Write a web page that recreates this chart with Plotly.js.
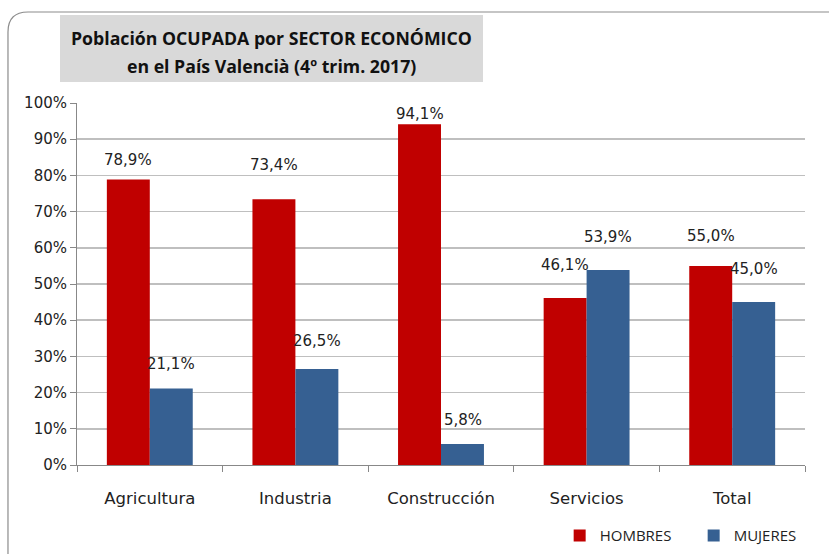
<!DOCTYPE html>
<html>
<head>
<meta charset="utf-8">
<script src="https://cdn.plot.ly/plotly-3.0.1.min.js"></script>
<style>html,body{margin:0;padding:0;background:#fff;}#chart{width:829px;height:554px;}</style>
</head>
<body>
<div id="chart"></div>
<script>
// Data
var categories = ["Agricultura", "Industria", "Construcción", "Servicios", "Total"];
var hombres = [78.9, 73.4, 94.1, 46.1, 55.0];
var mujeres = [21.1, 26.5, 5.8, 53.9, 45.0];
var yTickVals = [0, 10, 20, 30, 40, 50, 60, 70, 80, 90, 100];
var titleLines = ["Población OCUPADA por SECTOR ECONÓMICO", "en el País Valencià (4º trim. 2017)"];

// Label styling (pixel offsets above bar tops)
var hombresLabelShift = [19, 34, 10, 33, 30];
var mujeresLabelShift = [25, 28, 24, 33, 33];

var RED = "#C00000", BLUE = "#366092";
var FONT = "DejaVu Sans";

function fmt(v) { return v.toFixed(1).replace(".", ",") + "%"; }

var traces = [
  {type: "bar", name: "HOMBRES", x: categories, y: hombres, marker: {color: RED}, hoverinfo: "none"},
  {type: "bar", name: "MUJERES", x: categories, y: mujeres, marker: {color: BLUE}, hoverinfo: "none"}
];

var annotations = [];
categories.forEach(function (c, i) {
  annotations.push({x: c, y: hombres[i], xref: "x", yref: "y", text: fmt(hombres[i]), showarrow: false,
    xshift: -21.5, yshift: hombresLabelShift[i], font: {family: FONT, size: 15, color: "#222"}});
  annotations.push({x: c, y: mujeres[i], xref: "x", yref: "y", text: fmt(mujeres[i]), showarrow: false,
    xshift: 21.5, yshift: mujeresLabelShift[i], font: {family: FONT, size: 15, color: "#222"}});
});

// Title lines
var titleY = [1.1796, 1.1022];
titleLines.forEach(function (t, i) {
  annotations.push({
    xref: "paper", yref: "paper", x: 0.2672, y: titleY[i], xanchor: "center", yanchor: "middle",
    text: "<b>" + t + "</b>", showarrow: false,
    font: {family: "Open Sans", size: 17.7, color: "#111"}
  });
});

var layout = {
  width: 829, height: 554,
  margin: {l: 77, r: 24, t: 103, b: 89, autoexpand: false},
  paper_bgcolor: "#fff", plot_bgcolor: "#fff",
  barmode: "group", bargap: 0.41, bargroupgap: 0,
  showlegend: true,
  legend: {orientation: "h", x: 0.663, y: -0.15, xanchor: "left", yanchor: "top",
    font: {family: "Open Sans", size: 15, color: "#222"}, itemwidth: 30,
    entrywidth: 89, entrywidthmode: "pixels", traceorder: "normal"},
  xaxis: {
    type: "category", tickson: "boundaries", ticks: "outside", ticklen: 6, tickcolor: "#888",
    showline: true, linecolor: "#888", linewidth: 1, showgrid: false,
    tickfont: {family: FONT, size: 16.5, color: "#222"}, ticklabelstandoff: 18
  },
  yaxis: {
    range: [0, 100], tickvals: yTickVals, ticktext: yTickVals.map(function (v) { return v + "%"; }),
    ticks: "outside", ticklen: 6, tickcolor: "#888",
    showline: true, linecolor: "#888", linewidth: 1,
    showgrid: true, gridcolor: "#BFBFBF", gridwidth: 1.5, zeroline: false,
    tickfont: {family: FONT, size: 15, color: "#222"}
  },
  annotations: annotations,
  shapes: [
    {type: "path", xref: "paper", yref: "paper", layer: "below",
     path: "M -0.0948,-0.4 L -0.0948,1.1962 Q -0.0948,1.2514 -0.0673,1.2514 L 1.2,1.2514",
     line: {color: "#8C8C8C", width: 1.2}},
    {type: "rect", xref: "paper", yref: "paper", layer: "below",
     x0: -0.02335, x1: 0.5577, y0: 1.058, y1: 1.2431,
     fillcolor: "#D9D9D9", line: {width: 0}}
  ]
};

Plotly.newPlot("chart", traces, layout, {displayModeBar: false, staticPlot: true});
</script>
</body>
</html>
